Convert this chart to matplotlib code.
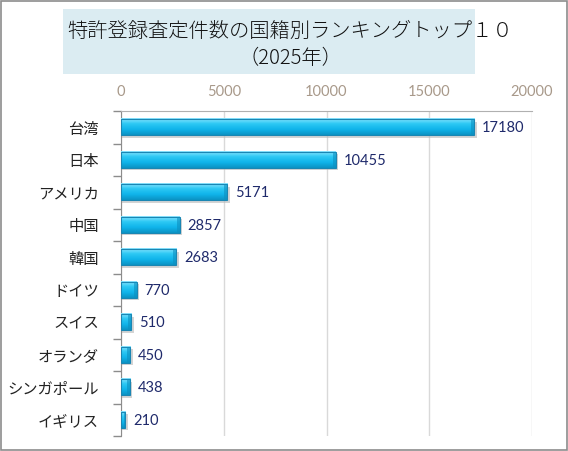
import numpy as np
import matplotlib.pyplot as plt
from matplotlib.colors import LinearSegmentedColormap
from matplotlib.patches import Rectangle

plt.rcParams['font.family'] = ['Noto Sans CJK JP', 'DejaVu Sans']

countries = ['台湾', '日本', 'アメリカ', '中国', '韓国', 'ドイツ', 'スイス', 'オランダ', 'シンガポール', 'イギリス']
counts = [17180, 10455, 5171, 2857, 2683, 770, 510, 450, 438, 210]
xticks = [0, 5000, 10000, 15000, 20000]

fig = plt.figure(figsize=(5.68, 4.51), dpi=100)
# outer frame
fig.patches.append(Rectangle((0.002, 0.002), 0.996, 0.996, transform=fig.transFigure,
                             fill=False, edgecolor='#8c8c8c', lw=1.2))

# title box
fig.patches.append(Rectangle((63 / 568, 1 - 74 / 451), 412 / 568, 65 / 451,
                             transform=fig.transFigure, facecolor='#dbecf2', edgecolor='none'))
fig.text(290 / 568, 1 - 31 / 451, '特許登録査定件数の国籍別ランキングトップ１０',
         ha='center', va='center', fontsize=14.6, color='#111111', fontweight='light')
fig.text(290 / 568, 1 - 58 / 451, '（2025年）', ha='center', va='center', fontsize=14.6,
         color='#111111', fontweight='light')

ax = fig.add_axes([121 / 568, 1 - 436 / 451, (532 - 121) / 568, (436 - 111) / 451])

cmap = LinearSegmentedColormap.from_list('bar', ['#8fe6ff', '#2cc8f4', '#10b4ea', '#0b93c4'])
grad = np.linspace(0, 1, 64).reshape(-1, 1)
h = 0.5
for i, v in enumerate(counts):
    y = i
    # shadow
    ax.add_patch(Rectangle((0, y - h / 2 + 0.08), v + 120, h, facecolor='#b8b8b8',
                           edgecolor='none', alpha=0.6, zorder=2))
    ax.imshow(grad, extent=(0, v, y + h / 2, y - h / 2), cmap=cmap, aspect='auto', zorder=3)
    ax.add_patch(Rectangle((0, y - h / 2), v, h, fill=False, edgecolor='#1a86b3', lw=0.8, zorder=4))
    cap = min(150, v * 0.3)
    ax.add_patch(Rectangle((v - cap, y - h / 2), cap, h, facecolor='#0d8fbf',
                           edgecolor='none', alpha=0.6, zorder=4))
    ax.text(v + 380, y + 0.03, str(v), va='center', ha='left', fontsize=10.5, color='#1f2a6b',
            family='Lato')

ax.set_xlim(0, 20000)
ax.set_ylim(len(countries) - 0.5, -0.5)
ax.set_xticks(xticks)
ax.set_xticklabels([str(t) for t in xticks], color='#a8998a', fontsize=10.5, family='Lato')
ax.xaxis.tick_top()
ax.tick_params(axis='x', length=0, pad=9)
ax.set_yticks(range(len(countries)))
ax.set_yticklabels(countries, fontsize=11, color='#222222')
ax.set_yticks(np.arange(-0.5, len(countries)), minor=True)
ax.tick_params(axis='y', which='major', length=0, pad=16)
ax.tick_params(axis='y', which='minor', length=6, color='#8c8c8c', width=1)
ax.grid(axis='x', color='#d9d9d9', lw=1)
ax.set_axisbelow(True)
for s in ['right', 'bottom']:
    ax.spines[s].set_visible(False)
ax.spines['left'].set_color('#8c8c8c')
ax.spines['top'].set_color('#b0b0b0')

fig.savefig('out.png', dpi=100)
